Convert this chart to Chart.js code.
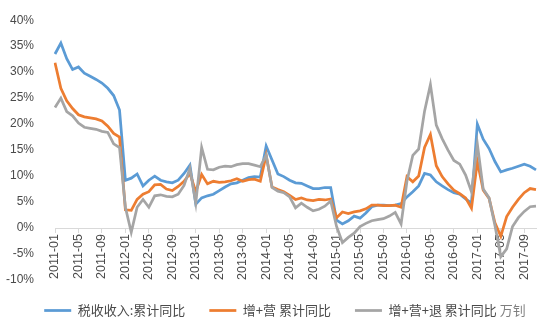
<!DOCTYPE html>
<html lang="zh-CN">
<head>
<meta charset="utf-8">
<title>税收收入与增值税、营业税累计同比</title>
<script src="https://cdn.jsdelivr.net/npm/chart.js@4.4.1/dist/chart.umd.min.js"></script>
<style>
  html, body { margin: 0; padding: 0; background: #fff; }
  #wrap { width: 560px; height: 336px; }
</style>
</head>
<body>
<div id="wrap"><canvas id="taxChart" width="560" height="336"></canvas></div>
<script>
// months 2011-01 .. 2017-11
const months = [];
for (let y = 2011; y <= 2017; y++) {
  for (let m = 1; m <= 12; m++) {
    if (y === 2017 && m > 11) break;
    months.push(y + '-' + String(m).padStart(2, '0'));
  }
}

const seriesNames = ['税收收入:累计同比', '增+营 累计同比', '增+营+退 累计同比'];

// 税收收入 累计同比 (%)
const taxRevenue = [
  33.5, 35.6, 32.6, 30.5, 31.0, 29.8, 29.2, 28.6, 27.9, 26.9, 25.5, 22.7,
  9.2, 9.6, 10.4, 8.1, 9.2, 10.0, 9.2, 8.9, 8.7, 9.2, 10.5, 12.1,
  4.6, 5.8, 6.2, 6.5, 7.2, 7.9, 8.5, 8.7, 9.2, 9.7, 9.9, 9.8,
  15.8, 13.1, 10.4, 9.9, 9.2, 8.7, 8.6, 8.1, 7.6, 7.6, 7.8, 7.8,
  1.5, 0.8, 1.4, 2.3, 1.9, 2.9, 4.1, 4.4, 4.4, 4.3, 4.4, 4.7,
  6.0, 7.0, 8.1, 10.5, 10.2, 8.9, 8.1, 7.4, 6.8, 6.5, 5.6, 4.8,
  20.0, 17.1, 15.3, 12.8, 10.8, 11.2, 11.5, 11.9, 12.3, 11.9, 11.2
];

// 增值税+营业税 累计同比 (%)
const vatBiz = [
  31.8, 26.9, 24.5, 23.0, 21.8, 21.4, 21.2, 21.0, 20.6, 19.6, 18.2, 17.5,
  3.5, 3.4, 5.5, 6.5, 7.0, 8.3, 8.4, 7.5, 7.2, 8.0, 9.0, 10.5,
  7.0, 10.3, 8.5, 9.0, 8.8, 8.9, 9.1, 9.5, 9.0, 9.3, 9.4, 9.0,
  14.0, 7.9, 7.4, 7.0, 6.3, 5.5, 5.8, 5.4, 5.3, 5.5, 5.4, 5.6,
  2.0, 3.1, 2.8, 3.1, 3.3, 3.7, 4.4, 4.4, 4.3, 4.3, 4.4, 4.0,
  9.9, 8.9, 10.0, 15.5, 18.0, 12.0, 9.9, 8.5, 7.3, 6.6, 5.8, 3.8,
  12.8, 7.3, 5.7, 1.0, -1.6, 2.2, 4.0, 5.5, 6.8, 7.6, 7.4
];

// 增值税+营业税+出口退税 累计同比 (%)
const vatBizRefund = [
  23.2, 25.0, 22.4, 21.6, 20.2, 19.4, 19.2, 19.0, 18.6, 18.4, 16.2, 15.5,
  4.0, -0.8, 4.0, 5.5, 4.0, 6.2, 6.4, 6.1, 6.0, 6.5, 8.2, 11.5,
  4.8, 15.5, 11.3, 11.2, 11.7, 11.9, 11.8, 12.2, 12.4, 12.4, 12.1, 11.8,
  14.0, 7.8, 7.1, 6.8, 6.0, 3.9, 4.8, 4.0, 3.3, 3.6, 4.2, 5.2,
  0.3, -2.8, -1.8, -1.0, 0.3, 0.9, 1.4, 1.6, 1.8, 2.3, 3.0, 0.8,
  9.0, 14.0, 15.2, 22.5, 27.6, 19.8, 17.2, 15.0, 13.0, 12.3, 10.2, 7.0,
  16.2, 7.5, 5.8, 0.5, -5.5, -4.0, 0.3, 2.0, 3.2, 4.1, 4.2
];

const yTicks = { min: -10, max: 40, step: 5 };
const colors = ['#5B9BD5', '#ED7D31', '#A5A5A5'];
const labelColor = '#4a4a4a';

// legend sits in a fixed band under the plot
const legendBand = {
  id: 'legendBand',
  beforeLayout(chart) {
    const legend = chart.legend;
    if (!legend || legend._bandFit) return;
    const fit = legend.fit.bind(legend);
    legend.fit = function () { fit(); this.height = 56; };
    legend._bandFit = true;
  }
};

// author mark after the last legend entry
const signature = {
  id: 'signature',
  afterDraw(chart) {
    const legend = chart.legend;
    if (!legend || !legend.legendHitBoxes.length) return;
    const box = legend.legendHitBoxes[legend.legendHitBoxes.length - 1];
    const ctx = chart.ctx;
    ctx.save();
    ctx.font = '13px "Noto Sans CJK SC"';
    ctx.fillStyle = '#7f7f7f';
    ctx.textBaseline = 'middle';
    ctx.fillText('万钊', box.left + box.width + 3, legend.top + 24 + 6.5);
    ctx.restore();
  }
};

const ctx = document.getElementById('taxChart').getContext('2d');
new Chart(ctx, {
  type: 'line',
  data: {
    labels: months,
    datasets: [taxRevenue, vatBiz, vatBizRefund].map((values, i) => ({
      label: seriesNames[i],
      data: values,
      borderColor: colors[i],
      backgroundColor: colors[i],
      borderWidth: 2.75,
      pointRadius: 0,
      tension: 0,
      fill: false,
      order: 2 - i
    }))
  },
  options: {
    responsive: false,
    animation: false,
    events: [],
    layout: { padding: { left: 5, right: 24, top: 20, bottom: 0 } },
    scales: {
      x: {
        position: { y: 0 },
        grid: { display: true, drawOnChartArea: false, drawTicks: true, tickLength: 4, color: '#d9d9d9' },
        border: { display: true, color: '#d9d9d9', width: 1 },
        ticks: {
          autoSkip: false,
          minRotation: 90,
          maxRotation: 90,
          padding: 2,
          color: labelColor,
          font: { family: '"Liberation Sans", Arial, sans-serif', size: 12.5 },
          callback(value, index) {
            return index % 4 === 0 ? this.getLabelForValue(value) : null;
          }
        }
      },
      y: {
        min: yTicks.min,
        max: yTicks.max,
        grid: { display: false },
        border: { display: false },
        afterFit(scale) { scale.width = 50; },
        ticks: {
          stepSize: yTicks.step,
          padding: 13,
          color: labelColor,
          font: { family: '"Liberation Sans", Arial, sans-serif', size: 12 },
          callback: (v) => v + '%'
        }
      }
    },
    plugins: {
      tooltip: { enabled: false },
      legend: {
        position: 'bottom',
        labels: {
          usePointStyle: true,
          pointStyle: 'line',
          pointStyleWidth: 27,
          padding: 24,
          color: labelColor,
          font: { family: '"Noto Sans CJK SC", sans-serif', size: 13 },
          sort: (a, b) => a.datasetIndex - b.datasetIndex
        }
      }
    }
  },
  plugins: [legendBand, signature]
});
</script>
</body>
</html>
